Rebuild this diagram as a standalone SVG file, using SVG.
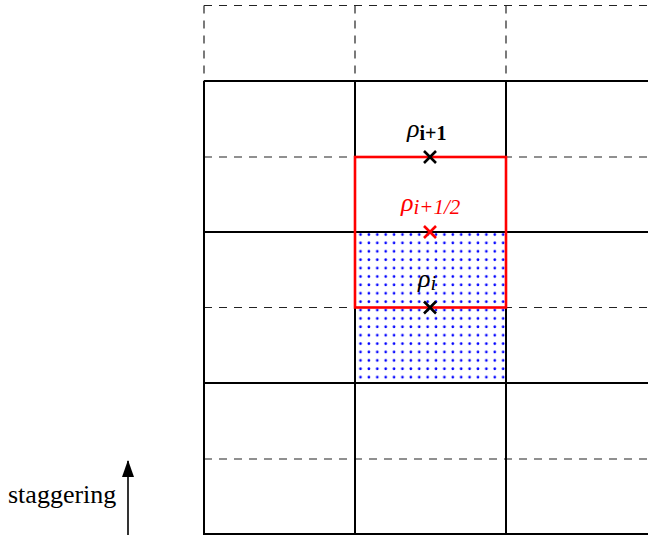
<svg xmlns="http://www.w3.org/2000/svg" width="648" height="536" viewBox="0 0 648 536">
<style>
.solid{stroke:#000;stroke-width:2;fill:none}
.dash{stroke:#222;stroke-width:1.2;stroke-dasharray:8,7;fill:none}
.cross{stroke:#000;stroke-width:2.6}
.red{stroke:#f00}
.lbl{font-family:"Liberation Serif","DejaVu Serif",serif}
</style>
<defs>
<pattern id="dots" x="355" y="232" width="8.39" height="8.39" patternUnits="userSpaceOnUse">
<circle cx="5.5" cy="2.6" r="1.35" fill="#00f"/>
</pattern>
<marker id="ah" markerWidth="17" markerHeight="12" refX="16" refY="6" orient="auto" markerUnits="userSpaceOnUse" viewBox="0 0 17 12">
<path d="M0,0 L17,6 L0,12 Z" fill="#000"/>
</marker>
</defs>
<g id="fill-region"><rect x="355" y="232" width="151" height="151" fill="url(#dots)"/></g>
<g id="grid">
<path class="dash" d="M204,5.5 H648 M204,5.5 V81 M355,5.5 V81 M506,5.5 V81 M204,157 H648 M204,307.5 H648 M204,459 H648"/>
<path class="solid" d="M204,81 V535 M355,81 V535 M506,81 V535 M204,81 H648 M204,232 H648 M204,383 H648 M204,534 H648"/>
</g>
<g id="cell-red"><rect x="355" y="157" width="151" height="150.5" fill="none" stroke="#f00" stroke-width="2.6"/></g>
<g id="node-rho-i1">
<path class="cross" d="M424,151 L436,163 M436,151 L424,163"/>
<text class="lbl" x="407" y="137" style="font-size:26px"><tspan font-style="italic">ρ</tspan><tspan font-weight="bold" style="font-size:20px" dy="3">i+1</tspan></text>
</g>
<g id="node-rho-half">
<path class="cross red" d="M424,226 L436,238 M436,226 L424,238"/>
<text class="lbl" x="401" y="211" fill="#f00" font-style="italic" style="font-size:26px">ρ<tspan style="font-size:21px" dy="3">i+1/2</tspan></text>
</g>
<g id="node-rho-i">
<path class="cross" d="M424,301.5 L436,313.5 M436,301.5 L424,313.5"/>
<text class="lbl" x="418" y="287" font-style="italic" style="font-size:26px">ρ<tspan style="font-size:21px" dy="3">i</tspan></text>
</g>
<g id="connectors">
<line x1="128" y1="535" x2="128" y2="461" stroke="#000" stroke-width="1.6" marker-end="url(#ah)"/>
</g>
<g id="label-staggering"><text class="lbl" x="8" y="503" style="font-size:26px">staggering</text></g>
</svg>
